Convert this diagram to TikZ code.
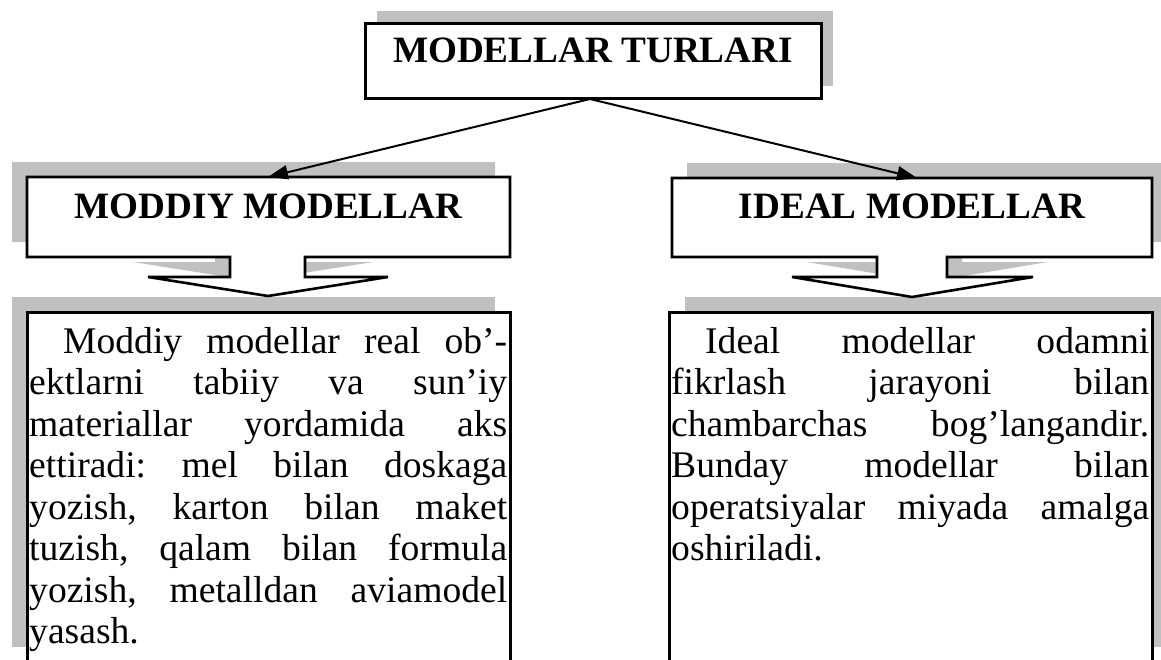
\documentclass[tikz,border=0pt]{standalone}
\usepackage{fontspec}
\setmainfont{Liberation Serif}
\usetikzlibrary{arrows.meta}
\definecolor{shadowgray}{RGB}{192,192,192}
\hbadness=10000
\tolerance=10000
\frenchspacing
\tikzset{
  boxline/.style={draw=black, line width=3pt, fill=white},
  drop/.style={fill=shadowgray},
  heading/.style={font=\fontsize{37.2}{40}\selectfont\bfseries, inner sep=0, anchor=base},
  body/.style={font=\fontsize{37.6}{41.5}\selectfont, inner sep=0, anchor=base west},
  link/.style={line width=2pt, -{Triangle[length=20pt,width=14pt]}}
}
\begin{document}
\begin{tikzpicture}[x=1pt,y=-1pt]
  \def\moddiyshape{(27,177) -- (510,177) -- (510,257) -- (305,257) -- (305,277) -- (388,277) -- (268,296) -- (148,277) -- (230,277) -- (230,257) -- (27,257) -- cycle}
  \def\idealshape{(672,178) -- (1152,178) -- (1152,257) -- (947,257) -- (947,277) -- (1033,277) -- (912,297) -- (792,277) -- (877,277) -- (877,257) -- (672,257) -- cycle}
  \clip (0,0) rectangle (1161,659);
  \fill[white] (0,0) rectangle (1161,659);
  % top box
  \fill[drop] (377,11) rectangle (833,86);
  \draw[boxline] (365,23) rectangle (821,98);
  \node[heading] (turlari) at (593,62) {MODELLAR TURLARI};
  % text boxes
  \fill[drop] (12,297) rectangle (495,647);
  \fill[drop] (685,297) rectangle (1168,647);
  \draw[boxline] (27,312) rectangle (510,662);
  \draw[boxline] (669,312) rectangle (1152,662);
  % callouts
  \fill[drop, shift={(-15,-15)}] \moddiyshape;
  \fill[drop, shift={(15,-15)}] \idealshape;
  \draw[boxline, line width=2.6pt] \moddiyshape;
  \draw[boxline, line width=2.6pt] \idealshape;
  \node[heading] (moddiy) at (268.5,218) {MODDIY MODELLAR};
  \node[heading] (ideal) at (912,218) {IDEAL MODELLAR};
  % arrows
  \coordinate (apex) at (590,99);
  \coordinate (moddiytop) at (268,177);
  \coordinate (idealtop) at (917,178);
  \draw[link] (apex) -- (moddiytop);
  \draw[link] (apex) -- (idealtop);
  % texts
  \node[body] (moddiytext) at (29,353) {\parbox[t]{478pt}{\hspace*{34pt}Moddiy modellar real ob’-\linebreak
    ektlarni tabiiy va sun’iy\linebreak
    materiallar yordamida aks\linebreak
    ettiradi: mel bilan doskaga\linebreak
    yozish, karton bilan maket\linebreak
    tuzish, qalam bilan formula\linebreak
    yozish, metalldan aviamodel\linebreak
    yasash.}};
  \node[body] (idealtext) at (671,353) {\parbox[t]{478pt}{\hspace*{34pt}Ideal modellar odamni\linebreak
    fikrlash jarayoni bilan\linebreak
    chambarchas bog’langandir.\linebreak
    Bunday modellar bilan\linebreak
    operatsiyalar miyada amalga\linebreak
    oshiriladi.}};
\end{tikzpicture}
\end{document}
